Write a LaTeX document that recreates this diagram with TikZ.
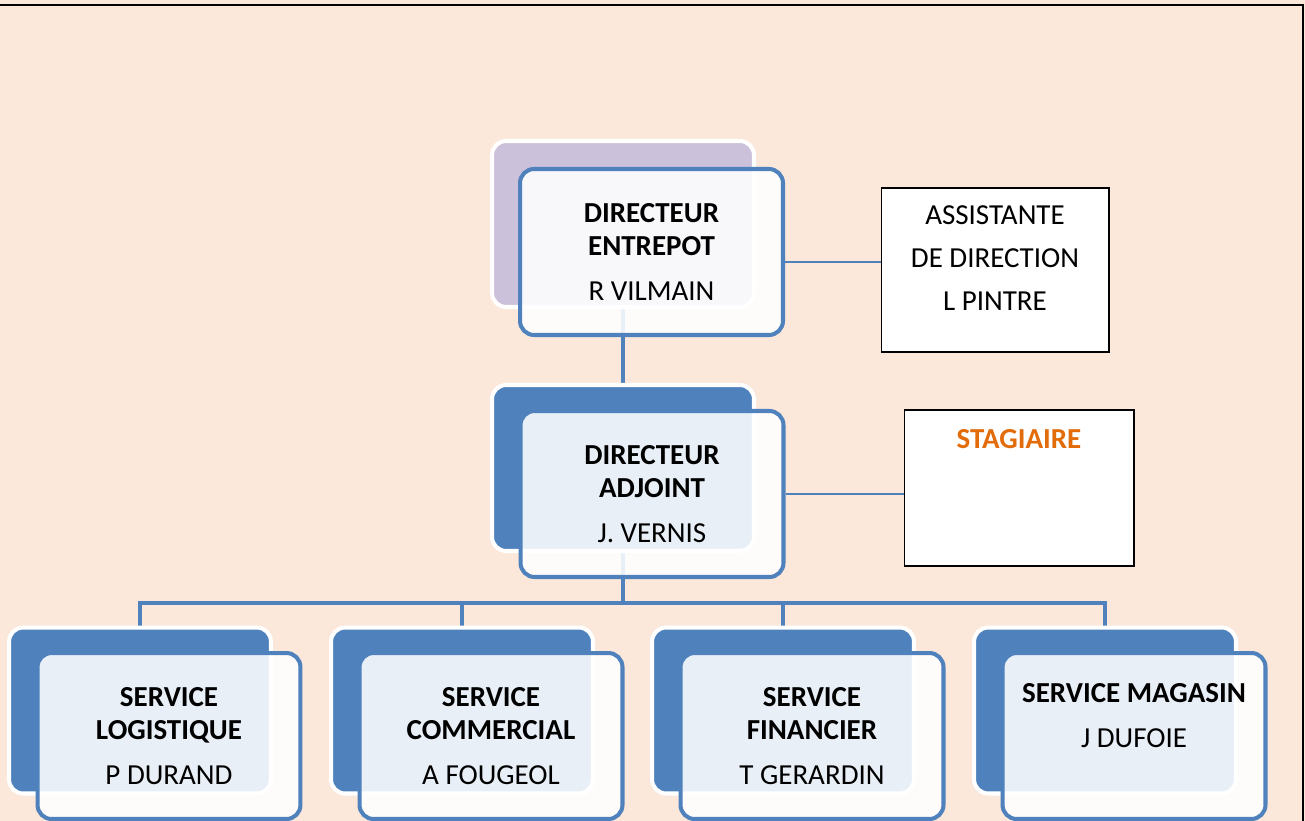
\documentclass[tikz,border=0pt]{standalone}
\usepackage{fontspec}
\setmainfont{Carlito}
\usetikzlibrary{positioning}
\usetikzlibrary{calc}
\definecolor{peach}{HTML}{FBE8DA}
\definecolor{orgblue}{HTML}{4F81BD}
\definecolor{lilac}{HTML}{CCC1DA}
\definecolor{stagorange}{HTML}{E36C0A}
\pgfdeclarelayer{links}
\pgfsetlayers{links,main}
\tikzset{
	backbox/.style={rectangle, rounded corners=8pt, draw=white, line width=2.3pt,
		minimum width=5.24cm, minimum height=3.32cm, inner sep=0pt},
	frontbox/.style={rectangle, rounded corners=8pt, draw=orgblue, line width=2.3pt,
		fill=white, fill opacity=0.88, text opacity=1,
		minimum width=5.26cm, minimum height=3.32cm, inner sep=0pt, align=center,
		font=\fontsize{16.5pt}{19pt}\selectfont},
	sidebox/.style={rectangle, draw=black, line width=0.6pt, fill=white,
		inner sep=0pt, align=center, font=\fontsize{16.5pt}{19pt}\selectfont},
	orglink/.style={draw=orgblue, line width=2.3pt},
	thinlink/.style={draw=orgblue, line width=0.9pt}
}
\begin{document}
\begin{tikzpicture}[x=0.02cm, y=-0.02cm]
		\useasboundingbox (0,0) rectangle (1305,821);
		
		\node[backbox, fill=lilac] (dirB) at (623, 224) {};
		\node[frontbox] (dirF) at (651.5, 252) {\textbf{DIRECTEUR}\\ \textbf{ENTREPOT}\\[6.5pt] R VILMAIN};
		
		\node[backbox, fill=orgblue] (adjB) at (623, 468) {};
		\node[frontbox] (adjF) at (652, 494) {\textbf{DIRECTEUR}\\ \textbf{ADJOINT}\\[6.5pt] J. VERNIS};
		
		\node[sidebox, minimum width=4.56cm, minimum height=3.28cm, text depth=13.6pt] (asst) at (995, 270) {ASSISTANTE\\[5.5pt] DE DIRECTION\\[5.5pt] L PINTRE};
		\node[sidebox, minimum width=4.6cm, minimum height=3.12cm] (stag) at (1019, 488) {};
		\node[font=\fontsize{16.5pt}{19pt}\selectfont\bfseries, text=stagorange, anchor=base] (stagT) at (1019, 448) {STAGIAIRE};
		
		\node[backbox, fill=orgblue] (logB) at (140, 710.5) {};
		\node[frontbox] (logF) at (169, 736) {\textbf{SERVICE}\\ \textbf{LOGISTIQUE}\\[6.5pt] P DURAND};
		
		\node[backbox, fill=orgblue] (comB) at (462, 710.5) {};
		\node[frontbox] (comF) at (491, 736) {\textbf{SERVICE}\\ \textbf{COMMERCIAL}\\[6.5pt] A FOUGEOL};
		
		\node[backbox, fill=orgblue] (finB) at (783, 710.5) {};
		\node[frontbox] (finF) at (812, 736) {\textbf{SERVICE}\\ \textbf{FINANCIER}\\[6.5pt] T GERARDIN};
		
		\node[backbox, fill=orgblue] (magB) at (1105, 710.5) {};
		\node[frontbox, text depth=23.8pt] (magF) at (1134, 736) {\textbf{SERVICE MAGASIN}\\[6.5pt] J DUFOIE};
		
		% connectors go under the boxes
		\begin{pgfonlayer}{links}
			\fill[peach] (0,0) rectangle (1305,821);
			\coordinate (bus) at (623, 603);
			\draw[orglink] (dirB.center) -- (adjB.center);
			\draw[orglink] (adjB.center) -- (bus);
			\foreach \s in {logB, comB, finB, magB}
				\draw[orglink] (bus) -| (\s.north);
			\draw[thinlink] ([yshift=-5.7pt]dirF.east) -- ([yshift=-5.7pt]dirF.east -| asst.west);
			\draw[thinlink] (adjF.east) -- (adjF.east -| stag.west);
		\end{pgfonlayer}
		
		\draw[line width=1pt] (0,5) -- (1303,5) -- (1303,821);
	\end{tikzpicture}
\end{document}
